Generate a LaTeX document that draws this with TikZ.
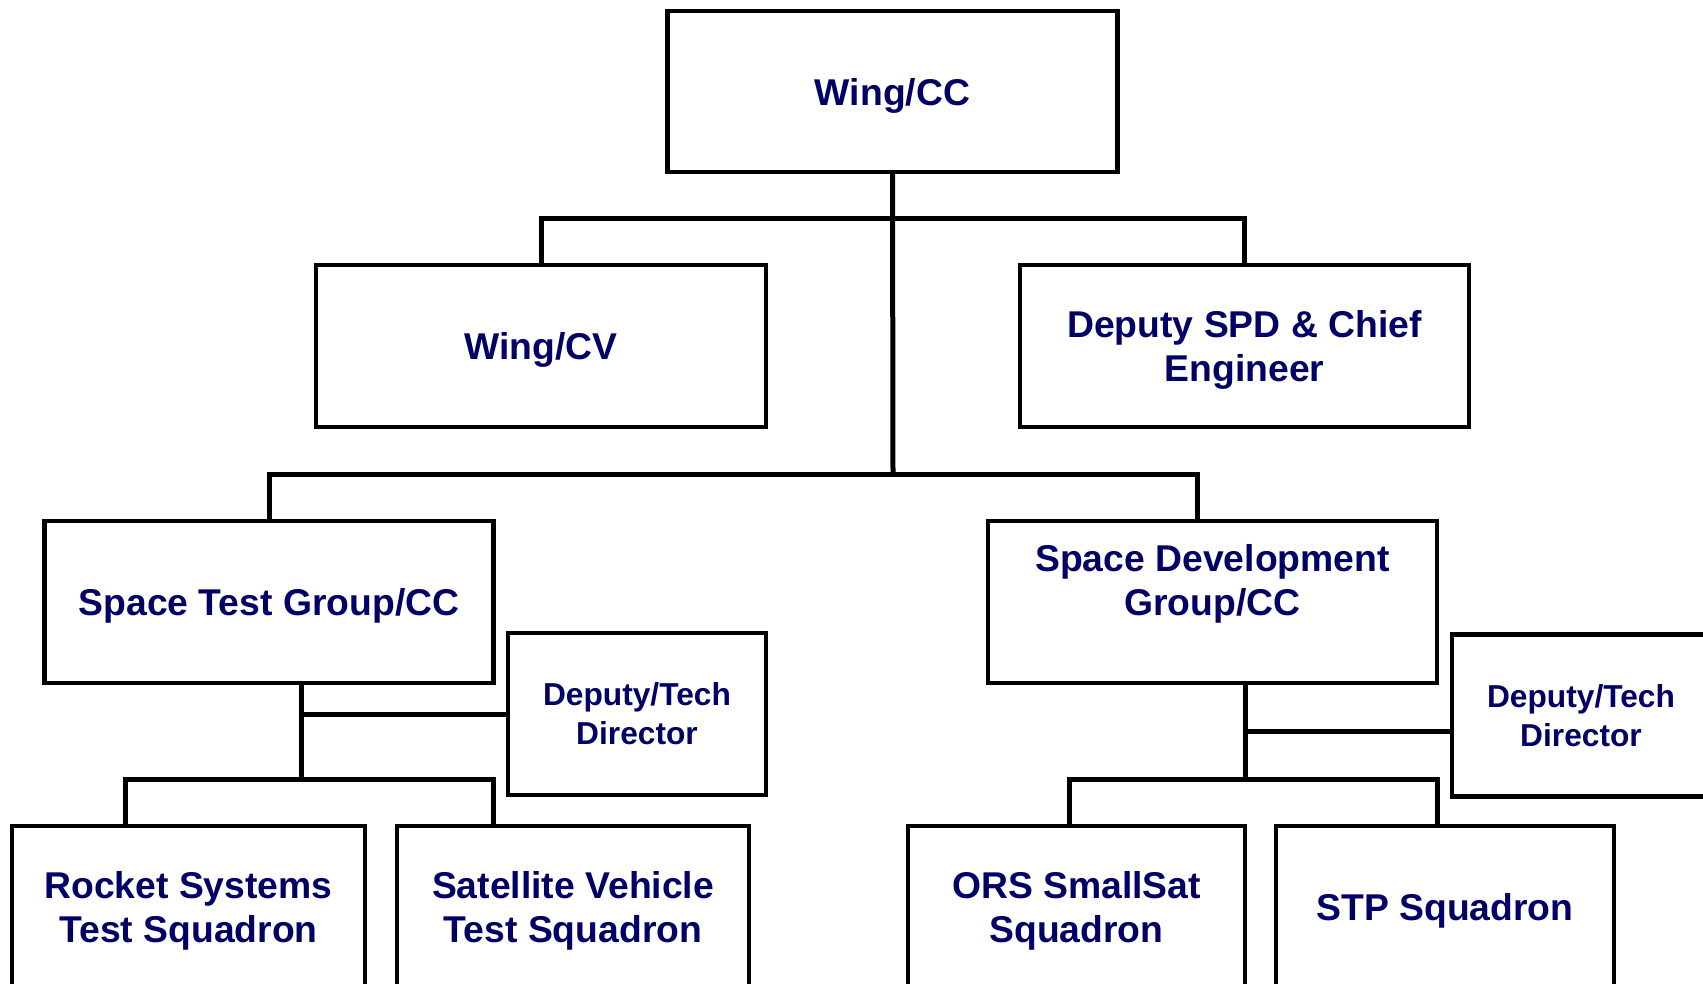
\documentclass[tikz,border=0pt]{standalone}
\usepackage{fontspec}
\setmainfont{Liberation Sans}
\definecolor{navy}{RGB}{0,0,102}
\tikzset{
  box/.style={draw=black, line width=4.3pt, fill=white, inner sep=0pt, outer sep=0pt,
              text=navy, font=\bfseries\fontsize{37.3}{44.5}\selectfont, align=center, text depth=0pt},
  dbox/.style={box, font=\bfseries\fontsize{31.7}{39}\selectfont, text depth=-7pt},
  lbl/.style={text=navy, font=\bfseries\fontsize{37.3}{44.5}\selectfont, align=center, inner sep=0pt, text depth=0pt},
  conn/.style={draw=black, line width=5pt, line join=miter}
}
\begin{document}
\begin{tikzpicture}[x=1pt,y=-1pt]
\useasboundingbox (0,0) rectangle (1703,983);
\clip (0,0) rectangle (1703,983);
\fill[white] (0,0) rectangle (1703,983);

% coordinates for buses
\coordinate (b1) at (893,218);
\coordinate (b2) at (893,474);
\coordinate (b2r) at (1197,474);
\coordinate (lv) at (301,779);
\coordinate (lbl) at (125,779);
\coordinate (lbr) at (493,779);
\coordinate (rv) at (1245,779);
\coordinate (rd) at (1245,731);
\coordinate (rbl) at (1069,779);
\coordinate (rbr) at (1437,779);

\node[box, minimum width=450pt, minimum height=161pt] (cc) at (892.5,91.5) {Wing/CC};
\node[box, minimum width=450pt, minimum height=162pt] (cv) at (541,346) {Wing/CV};
\node[box, minimum width=449pt, minimum height=162pt] (spd) at (1244.5,346) {Deputy SPD \& Chief\\Engineer};
\node[box, minimum width=449pt, minimum height=162pt] (stg) at (269,602) {Space Test Group/CC};
\node[box, minimum width=449pt, minimum height=162pt] (sdg) at (1212.5,602) {};
\node[lbl] (sdgt) at ([yshift=22pt]sdg.center) {Space Development\\Group/CC};
\node[dbox, minimum width=258pt, minimum height=162pt] (dtl) at (637,714) {Deputy/Tech\\Director};
\node[dbox, minimum width=258pt, minimum height=162pt] (dtr) at (1581,715.5) {Deputy/Tech\\Director};
\node[box, minimum width=353pt, minimum height=162pt] (rst) at (188.5,907) {Rocket Systems\\Test Squadron};
\node[box, minimum width=352pt, minimum height=162pt] (svt) at (573,907) {Satellite Vehicle\\Test Squadron};
\node[box, minimum width=337pt, minimum height=162pt] (ors) at (1076.5,907) {ORS SmallSat\\Squadron};
\node[box, minimum width=338pt, minimum height=162pt] (stp) at (1445,907) {STP Squadron};

% top level
\draw[conn] (cc.south) -- (b2);
\draw[conn] (cv.north) -- (cv.north |- b1) -- (spd.north |- b1) -- (spd.north);
\draw[conn] (stg.north) -- (stg.north |- b2) -- (b2r) -- (b2r |- sdg.north);

% left group
\draw[conn] (lv |- stg.south) -- (lv);
\draw[conn] (dtl.west) -- (dtl.west -| lv);
\draw[conn] (lbl |- rst.north) -- (lbl) -- (lbr) -- (lbr |- svt.north);

% right group
\draw[conn] (rv |- sdg.south) -- (rv);
\draw[conn] (rd) -- (rd -| dtr.west);
\draw[conn] (rbl |- ors.north) -- (rbl) -- (rbr) -- (rbr |- stp.north);
\end{tikzpicture}
\end{document}
